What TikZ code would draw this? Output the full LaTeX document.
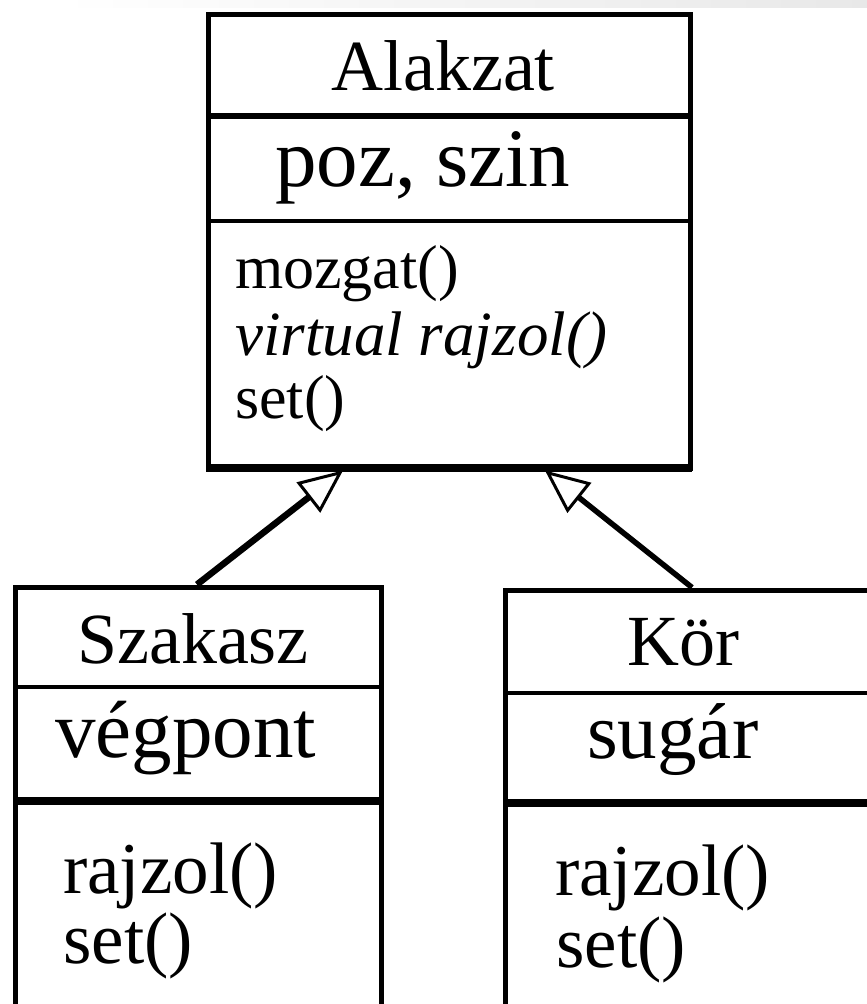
\documentclass[tikz,border=0pt]{standalone}
\usepackage{fontspec}
\setmainfont{Liberation Serif}
\usetikzlibrary{arrows.meta, positioning}
\tikzset{
  classbox/.style={draw, rectangle, line width=5pt, inner sep=0pt},
  sep/.style={line width=4.5pt},
  thicksep/.style={line width=8pt},
  inherit/.style={line width=5.5pt, -{Triangle[open, length=44pt, width=38pt, line width=3pt]}},
  classname/.style={inner sep=0pt, anchor=base, font=\fontsize{72}{72}\selectfont},
  attrname/.style={inner sep=0pt, anchor=base west, font=\fontsize{82}{82}\selectfont},
  methname/.style={inner sep=0pt, anchor=base west, font=\fontsize{73}{73}\selectfont},
  topmeth/.style={inner sep=0pt, anchor=base west, font=\fontsize{62}{62}\selectfont}
}
\begin{document}
\begin{tikzpicture}[x=1pt, y=-1pt]
    \useasboundingbox (0,0) rectangle (867,1004);
    \shade[left color=white, right color=black!9] (60,0) rectangle (867,7);

    % base class
    \node[classbox, minimum width=482pt, minimum height=454pt] (alakzat) at (449,241) {};
    \draw[sep, line width=6.5pt] (208,116) -- (690,116);
    \draw[sep] (208,221) -- (690,221);
    \draw[line width=7.5pt] (206,468) -- (692,468);
    \node[classname] (alakzatname) at (443,90) {Alakzat};
    \node[attrname, font=\fontsize{83}{83}\selectfont] (alakzatattr) at (275,186) {poz, szin};
    \node[topmeth] (alakzatmozgat) at (235,288) {mozgat()};
    \node[topmeth, font=\fontsize{63}{63}\selectfont\itshape] (alakzatrajzol) at (235,355) {virtual rajzol()};
    \node[topmeth] (alakzatset) at (235,418) {set()};

    % derived classes
    \node[classbox, minimum width=366pt, minimum height=443pt] (szakasz) at (198,808.5) {};
    \draw[sep] (15,687) -- (381,687);
    \draw[thicksep] (15,801) -- (381,801);
    \node[classname] (szakaszname) at (193,663) {Szakasz};
    \node[attrname, font=\fontsize{81}{81}\selectfont] (szakaszattr) at (55,757) {végpont};
    \node[methname] (szakaszrajzol) at (63,893) {rajzol()};
    \node[methname] (szakaszset) at (63,963) {set()};

    \node[classbox, minimum width=380pt, minimum height=440pt] (kor) at (695,810) {};
    \draw[sep] (505,693) -- (885,693);
    \draw[thicksep] (505,803) -- (885,803);
    \node[classname] (korname) at (683,665) {Kör};
    \node[attrname, font=\fontsize{79}{79}\selectfont] (korattr) at (587,758) {sugár};
    \node[methname] (korrajzol) at (555,895) {rajzol()};
    \node[methname] (korset) at (556,967) {set()};

    % inheritance
    \draw[inherit, line width=6.5pt] ([xshift=184.5pt]szakasz.north west) -- ([xshift=137.5pt]alakzat.south west);
    \draw[inherit] ([xshift=189.5pt]kor.north west) -- ([xshift=339.5pt]alakzat.south west);
\end{tikzpicture}
\end{document}
